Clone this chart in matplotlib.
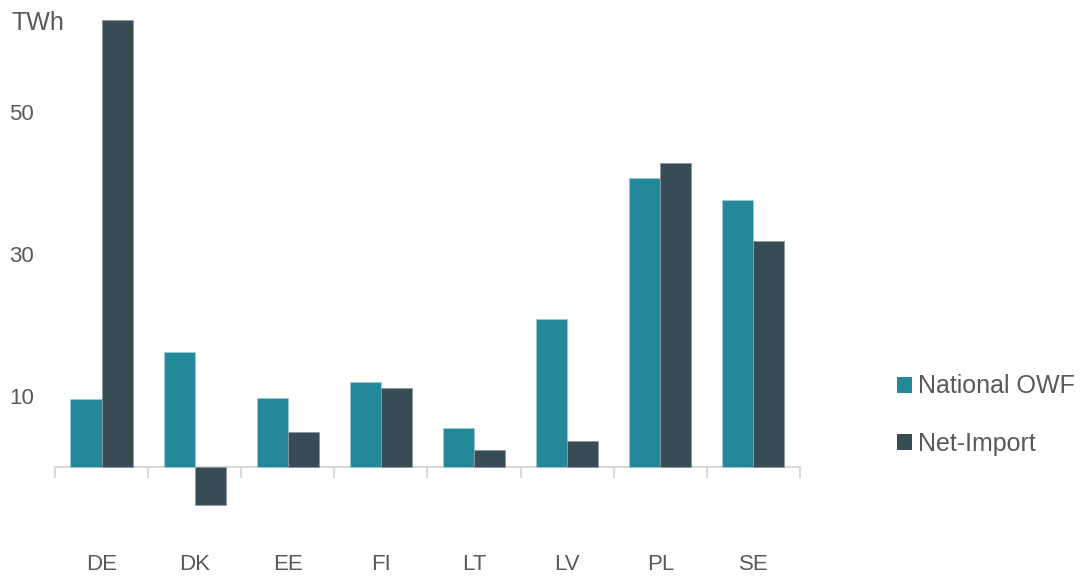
import matplotlib
matplotlib.use("Agg")
import matplotlib.pyplot as plt
import numpy as np
from matplotlib.patches import Patch

countries = ["DE", "DK", "EE", "FI", "LT", "LV", "PL", "SE"]
national_owf = [9.6, 16.2, 9.7, 12.0, 5.5, 20.8, 40.7, 37.6]
net_import = [63.0, -5.4, 4.9, 11.1, 2.4, 3.7, 42.8, 31.8]
series_names = ["National OWF", "Net-Import"]
y_ticks = [10, 30, 50]

teal = "#23889A"
slate = "#374C54"
text_grey = "#595959"
axis_grey = "#D9D9D9"

plt.rcParams["font.family"] = ["Liberation Sans", "DejaVu Sans"]

fig = plt.figure(figsize=(10.86, 5.76), dpi=100)
ax = fig.add_axes([0.0506, 0.066, 0.686, 0.906])

x = np.arange(len(countries))
w = 1 / 3
ax.bar(x - w / 2, national_owf, w, color=teal, edgecolor="#9FC9D1", linewidth=0.6)
ax.bar(x + w / 2, net_import, w, color=slate, edgecolor="#8A9AA0", linewidth=0.6)

ax.set_xlim(-0.5, len(countries) - 0.5)
ax.set_ylim(-10, 63.5)

for side in ["left", "right", "top"]:
    ax.spines[side].set_visible(False)
ax.spines["bottom"].set_position(("data", 0))
ax.spines["bottom"].set_color(axis_grey)
ax.spines["bottom"].set_linewidth(1.5)
ax.spines["bottom"].set_zorder(0.5)

ax.set_xticks(x)
ax.set_xticklabels(countries)
ax.set_xticks(np.arange(-0.5, len(countries)), minor=True)
ax.tick_params(axis="x", which="major", length=0, pad=63, labelsize=16, labelcolor=text_grey)
ax.tick_params(axis="x", which="minor", length=8, width=1.5, color=axis_grey, direction="out")

ax.set_yticks(y_ticks)
ax.tick_params(axis="y", length=0, pad=15, labelsize=16, labelcolor=text_grey)

fig.text(0.011, 1 - 23 / 576, "TWh", fontsize=18, color=text_grey, ha="left", va="center")

handles = [Patch(facecolor=teal), Patch(facecolor=slate)]
fig.legend(handles, series_names, loc="center left", bbox_to_anchor=(0.826, 0.279),
           frameon=False, fontsize=18, labelcolor=text_grey, handlelength=0.6,
           handleheight=0.6, handletextpad=0.25, labelspacing=1.35, borderaxespad=0,
           borderpad=0)

fig.savefig("out.png", dpi=100)
